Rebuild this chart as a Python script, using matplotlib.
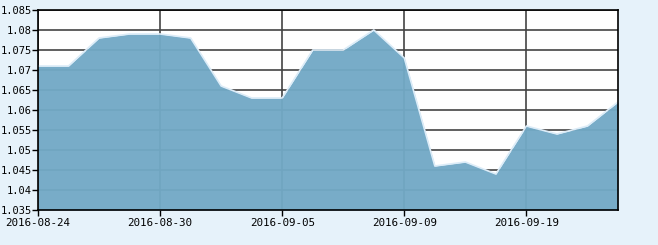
import matplotlib
matplotlib.use("Agg")
import matplotlib.pyplot as plt

dates = ["2016-08-24", "2016-08-25", "2016-08-26", "2016-08-29", "2016-08-30",
         "2016-08-31", "2016-09-01", "2016-09-02", "2016-09-05", "2016-09-06",
         "2016-09-07", "2016-09-08", "2016-09-09", "2016-09-12", "2016-09-13",
         "2016-09-14", "2016-09-19", "2016-09-20", "2016-09-21", "2016-09-22"]
values = [1.071, 1.071, 1.078, 1.079, 1.079, 1.078, 1.066, 1.063, 1.063, 1.075,
          1.075, 1.080, 1.073, 1.046, 1.047, 1.044, 1.056, 1.054, 1.056, 1.062]
yticks = [1.035, 1.04, 1.045, 1.05, 1.055, 1.06, 1.065, 1.07, 1.075, 1.08, 1.085]
ytick_labels = ["1.035", "1.04", "1.045", "1.05", "1.055", "1.06", "1.065", "1.07", "1.075", "1.08", "1.085"]
xtick_idx = [0, 4, 8, 12, 16]

W, H = 658, 245
fig = plt.figure(figsize=(W / 100, H / 100), dpi=100, facecolor="#e6f2fa")
ax = fig.add_axes([38 / W, (H - 210) / H, (618 - 38) / W, 200 / H])
ax.set_facecolor("white")

x = list(range(len(values)))
ax.set_xlim(0, len(values) - 1)
ax.set_ylim(1.035, 1.085)

ax.set_yticks(yticks)
ax.set_yticklabels(ytick_labels)
ax.set_xticks(xtick_idx)
ax.set_xticklabels([dates[i] for i in xtick_idx])

ax.grid(True, color="#444444", linewidth=1.2, zorder=1)
ax.set_axisbelow(True)
ax.fill_between(x, values, 1.035, color="#72a9c6", alpha=0.96, linewidth=0, zorder=2)
ax.plot(x, values, color="#dcecf8", linewidth=1.2, zorder=3)

for s in ax.spines.values():
    s.set_color("black")
    s.set_linewidth(1.2)
    s.set_zorder(4)

ax.tick_params(axis="both", direction="out", length=4, width=1, colors="black")
ax.tick_params(axis="y", labelsize=7.5, pad=0.5)
ax.tick_params(axis="x", labelsize=7.8, pad=1.5)
for lab in ax.get_xticklabels() + ax.get_yticklabels():
    lab.set_fontfamily("DejaVu Sans Mono")

fig.savefig("out.png", dpi=100, facecolor=fig.get_facecolor())
